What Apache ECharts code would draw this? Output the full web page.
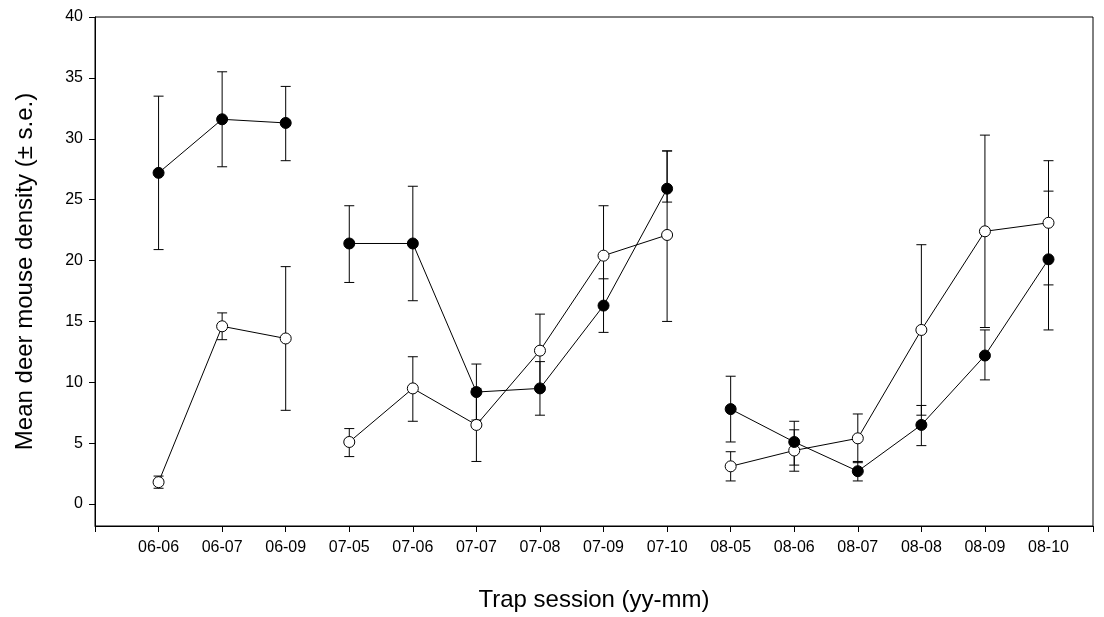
<!DOCTYPE html>
<html>
<head>
<meta charset="utf-8">
<script src="https://cdn.jsdelivr.net/npm/echarts@6/dist/echarts.min.js"></script>
<style>html,body{margin:0;padding:0;background:#fff}#c{width:1104px;height:617px}</style>
</head>
<body>
<div id="c"></div>
<script>
var sessions = ['06-06', '06-07', '06-09', '07-05', '07-06', '07-07', '07-08', '07-09', '07-10', '08-05', '08-06', '08-07', '08-08', '08-09', '08-10'];
var groups = [[0, 2], [3, 8], [9, 14]];

var filledMean = [27.2, 31.6, 31.3, 21.4, 21.4, 9.2, 9.5, 16.3, 25.9, 7.8, 5.1, 2.7, 6.5, 12.2, 20.1];
var filledLow  = [20.9, 27.7, 28.2, 18.2, 16.7, 6.9, 7.3, 14.1, 24.8, 5.1, 3.2, 1.9, 4.8, 10.2, 14.3];
var filledHigh = [33.5, 35.5, 34.3, 24.5, 26.1, 11.5, 11.7, 18.5, 29.0, 10.5, 6.8, 3.5, 8.1, 14.3, 25.7];

var openMean = [1.8, 14.6, 13.6, 5.1, 9.5, 6.5, 12.6, 20.4, 22.1, 3.1, 4.4, 5.4, 14.3, 22.4, 23.1];
var openLow  = [1.3, 13.5, 7.7, 3.9, 6.8, 3.5, 9.6, 16.3, 15.0, 1.9, 2.7, 3.4, 7.3, 14.5, 18.0];
var openHigh = [2.3, 15.7, 19.5, 6.2, 12.1, 9.5, 15.6, 24.5, 29.0, 4.3, 6.1, 7.4, 21.3, 30.3, 28.2];

function errSeries(low, high) {
  return {
    type: 'custom', z: 1,
    data: low.map(function (l, i) { return [i, l, high[i]]; }),
    renderItem: function (params, api) {
      var lo = api.coord([api.value(0), api.value(1)]);
      var hi = api.coord([api.value(0), api.value(2)]);
      var w = 5;
      var st = { stroke: '#000', lineWidth: 1 };
      return { type: 'group', children: [
        { type: 'line', shape: { x1: lo[0], y1: lo[1], x2: hi[0], y2: hi[1] }, style: st },
        { type: 'line', shape: { x1: lo[0] - w, y1: lo[1], x2: lo[0] + w, y2: lo[1] }, style: st },
        { type: 'line', shape: { x1: hi[0] - w, y1: hi[1], x2: hi[0] + w, y2: hi[1] }, style: st }
      ] };
    }
  };
}

function lineSeries(mean, fill) {
  return groups.map(function (g) {
    var d = [];
    for (var i = g[0]; i <= g[1]; i++) d.push([i, mean[i]]);
    return {
      type: 'line', data: d, z: 3, symbol: 'circle', symbolSize: 11,
      lineStyle: { color: '#000', width: 1 },
      itemStyle: { color: fill, borderColor: '#000', borderWidth: 1 }
    };
  });
}

var chart = echarts.init(document.getElementById('c'));
var series = [errSeries(filledLow, filledHigh), errSeries(openLow, openHigh)]
  .concat(lineSeries(openMean, '#fff'))
  .concat(lineSeries(filledMean, '#000'));

chart.setOption({
  animation: false,
  backgroundColor: '#fff',
  grid: { left: 95, right: 11, top: 17, bottom: 90, show: true, borderColor: '#000', borderWidth: 1 },
  xAxis: {
    type: 'value', min: -1, max: 14.7, interval: 1,
    name: 'Trap session (yy-mm)', nameLocation: 'middle', nameGap: 62,
    nameTextStyle: { fontSize: 24, color: '#000', fontFamily: 'Liberation Sans' },
    axisLine: { onZero: false, lineStyle: { color: '#000' } },
    axisTick: { lineStyle: { color: '#000' }, length: 6 },
    splitLine: { show: false },
    axisLabel: {
      color: '#000', fontSize: 16, fontFamily: 'Liberation Sans', margin: 14,
      formatter: function (v) { return Number.isInteger(v) && v >= 0 ? sessions[v] : ''; }
    }
  },
  yAxis: {
    type: 'value', min: -1.8, max: 40, splitNumber: 8,
    name: 'Mean deer mouse density (\u00b1 s.e.)', nameLocation: 'middle', nameGap: 58,
    nameTextStyle: { fontSize: 24, color: '#000', fontFamily: 'Liberation Sans' },
    axisLine: { onZero: false, lineStyle: { color: '#000' } },
    axisTick: { lineStyle: { color: '#000' }, length: 6 },
    splitLine: { show: false },
    axisLabel: {
      color: '#000', fontSize: 16, fontFamily: 'Liberation Sans', margin: 12,
      showMinLabel: false,
      formatter: function (v) { return v >= 0 && v % 5 === 0 ? String(v) : ''; }
    }
  },
  series: series
});
</script>
</body>
</html>
